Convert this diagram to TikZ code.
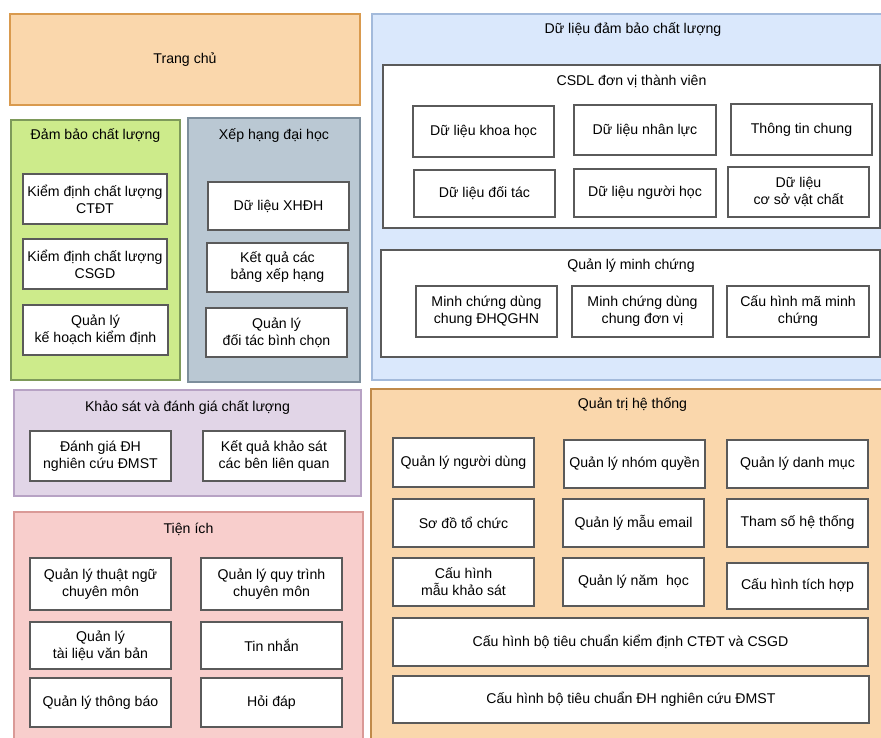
\documentclass[tikz,border=0pt]{standalone}
\usepackage{fontspec}
\setmainfont{Liberation Sans}
\usepackage{tikz}

\definecolor{orangefill}{HTML}{FAD7AC}
\definecolor{orangeline}{HTML}{D99A4E}
\definecolor{adminline}{HTML}{C08A4A}
\definecolor{greenfill}{HTML}{CDEB8B}
\definecolor{greenline}{HTML}{7E9A5A}
\definecolor{slatefill}{HTML}{BAC8D3}
\definecolor{slateline}{HTML}{7D8E9C}
\definecolor{bluefill}{HTML}{DAE8FC}
\definecolor{blueline}{HTML}{A3BADB}
\definecolor{purplefill}{HTML}{E1D5E7}
\definecolor{purpleline}{HTML}{B7A2C4}
\definecolor{redfill}{HTML}{F8CECC}
\definecolor{redline}{HTML}{DA9A97}
\definecolor{itemline}{HTML}{5A5A5A}

\newcommand{\boxfont}{\fontsize{10.6}{12.75}\selectfont}

\tikzset{
    px/.style 2 args={minimum width=#1*0.75pt, minimum height=#2*0.75pt},
    panel/.style={rectangle, inner sep=0pt, line width=1pt},
    item/.style={rectangle, draw=itemline, fill=white, line width=1.2pt,
        align=center, inner sep=0pt, font=\boxfont},
    heading/.style={inner sep=0pt, font=\boxfont},
}

\begin{document}
\begin{tikzpicture}[x=0.75pt, y=-0.75pt]
        \useasboundingbox (0,0) rectangle (881,738);
        \clip (0,0) rectangle (881,738);

        % top left
        \node[panel, draw=orangeline, fill=orangefill, px={350}{91}, font=\boxfont] (home) at (185,59.5) {Trang chủ};

        % quality assurance
        \node[panel, draw=greenline, fill=greenfill, px={169}{260}] (qa) at (95.5,250) {};
        \node[heading] (qa-title) at (95.5,136) {Đảm bảo chất lượng};
        \node[item, px={144}{50}] (qa-ctdt) at (95,199) {Kiểm định chất lượng\\CTĐT};
        \node[item, px={144}{50}] (qa-csgd) at (95,264) {Kiểm định chất lượng\\CSGD};
        \node[item, px={145}{50}] (qa-plan) at (95.5,330) {Quản lý\\kế hoạch kiểm định};

        % ranking
        \node[panel, draw=slateline, fill=slatefill, px={172}{264}] (rank) at (274,250) {};
        \node[heading] (rank-title) at (274,136) {Xếp hạng đại học};
        \node[item, px={141}{48}] (rank-data) at (278.5,206) {Dữ liệu XHĐH};
        \node[item, px={141}{49}] (rank-result) at (277.5,267.5) {Kết quả các\\bảng xếp hạng};
        \node[item, px={141}{49}] (rank-vote) at (276.5,332.5) {Quản lý\\đối tác bình chọn};

        % data
        \node[panel, draw=blueline, fill=bluefill, px={522}{366}] (data) at (633,197) {};
        \node[heading] (data-title) at (633,30) {Dữ liệu đảm bảo chất lượng};

        \node[panel, draw=itemline, fill=white, px={497}{163}] (unit) at (631.5,146.5) {};
        \node[heading] (unit-title) at (631.5,81) {CSDL đơn vị thành viên};
        \node[item, px={141}{51}] (unit-sci) at (483.5,131.5) {Dữ liệu khoa học};
        \node[item, px={142}{50}] (unit-staff) at (645,130) {Dữ liệu nhân lực};
        \node[item, px={141}{51}] (unit-info) at (801.5,129.5) {Thông tin chung};
        \node[item, px={141}{47}] (unit-partner) at (484.5,193.5) {Dữ liệu đối tác};
        \node[item, px={142}{48}] (unit-learner) at (645,193) {Dữ liệu người học};
        \node[item, px={141}{50}] (unit-facility) at (798.5,192) {Dữ liệu\\cơ sở vật chất};

        \node[panel, draw=itemline, fill=white, px={499}{107}] (proof) at (630.5,303.5) {};
        \node[heading] (proof-title) at (631,266) {Quản lý minh chứng};
        \node[item, px={141}{51}] (proof-vnu) at (486.5,311.5) {Minh chứng dùng\\chung ĐHQGHN};
        \node[item, px={141}{51}] (proof-unit) at (642.5,311.5) {Minh chứng dùng\\chung đơn vị};
        \node[item, px={142}{51}] (proof-code) at (798,311.5) {Cấu hình mã minh\\chứng};

        % survey
        \node[panel, draw=purpleline, fill=purplefill, px={347}{106}] (survey) at (187.5,443) {};
        \node[heading] (survey-title) at (187.5,408) {Khảo sát và đánh giá chất lượng};
        \node[item, px={141}{50}] (survey-eval) at (100.5,456) {Đánh giá ĐH\\nghiên cứu ĐMST};
        \node[item, px={142}{50}] (survey-result) at (274,456) {Kết quả khảo sát\\các bên liên quan};

        % utilities
        \node[panel, draw=redline, fill=redfill, px={349}{238}] (util) at (188.5,631) {};
        \node[heading] (util-title) at (188.5,529) {Tiện ích};
        \node[item, px={141}{52}] (util-term) at (100.5,584) {Quản lý thuật ngữ\\chuyên môn};
        \node[item, px={141}{52}] (util-flow) at (271.5,584) {Quản lý quy trình\\chuyên môn};
        \node[item, px={141}{47}] (util-docs) at (100.5,645.5) {Quản lý\\tài liệu văn bản};
        \node[item, px={141}{47}] (util-msg) at (271.5,645.5) {Tin nhắn};
        \node[item, px={141}{49}] (util-news) at (100.5,702.5) {Quản lý thông báo};
        \node[item, px={141}{49}] (util-faq) at (271.5,702.5) {Hỏi đáp};

        % administration
        \node[panel, draw=adminline, fill=orangefill, px={523}{361}] (admin) at (632.5,569.5) {};
        \node[heading] (admin-title) at (632.5,405) {Quản trị hệ thống};
        \node[item, px={141}{49}] (admin-user) at (463.5,462.5) {Quản lý người dùng};
        \node[item, px={141}{48}] (admin-role) at (634.5,464) {Quản lý nhóm quyền};
        \node[item, px={141}{48}] (admin-cat) at (797.5,464) {Quản lý danh mục};
        \node[item, px={141}{48}] (admin-org) at (463.5,523) {Sơ đồ tổ chức};
        \node[item, px={141}{48}] (admin-mail) at (633.5,523) {Quản lý mẫu email};
        \node[item, px={141}{48}] (admin-param) at (797.5,523) {Tham số hệ thống};
        \node[item, px={141}{48}] (admin-form) at (463.5,582) {Cấu hình\\mẫu khảo sát};
        \node[item, px={141}{48}] (admin-year) at (633.5,582) {Quản lý năm\ \ học};
        \node[item, px={141}{46}] (admin-link) at (797.5,586) {Cấu hình tích hợp};
        \node[item, px={475}{48}] (admin-std) at (630.5,642) {Cấu hình bộ tiêu chuẩn kiểm định CTĐT và CSGD};
        \node[item, px={476}{47}] (admin-dmst) at (631,699.5) {Cấu hình bộ tiêu chuẩn ĐH nghiên cứu ĐMST};
\end{tikzpicture}
\end{document}
